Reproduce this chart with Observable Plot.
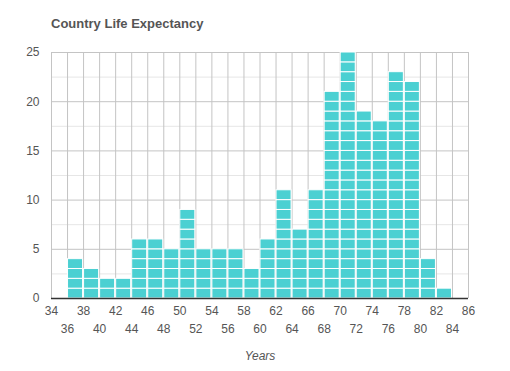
<!DOCTYPE html>
<html><head><meta charset="utf-8">
<script src="https://cdn.jsdelivr.net/npm/d3@7"></script>
<script src="https://cdn.jsdelivr.net/npm/@observablehq/plot@0.6"></script>
<style>
body{margin:0;background:#fff;font-family:"Liberation Sans",Arial,sans-serif;}
#title{height:40px;box-sizing:border-box;padding:17px 0 0 51px;font-size:13px;font-weight:bold;color:#555;line-height:14px;}
</style></head>
<body>
<div id="title">Country Life Expectancy</div>
<div id="chart"></div>
<script>
const binStarts = [36,38,40,42,44,46,48,50,52,54,56,58,60,62,64,66,68,70,72,74,76,78,80,82];
const counts    = [4, 3, 2, 2, 6, 6, 5, 9, 5, 5, 5, 3, 6, 11,7, 11,21,25,19,18,23,22,4, 1];
const binWidth = 2;
const xTicksRow1 = [34,38,42,46,50,54,58,62,66,70,74,78,82,86];
const xTicksRow2 = [36,40,44,48,52,56,60,64,68,72,76,80,84];
const yMajor = [0,5,10,15,20,25];
const yMinor = [2.5,7.5,12.5,17.5,22.5];
const xGrid = d3.range(34, 87, 2);
const xLabel = "Years";

const cells = [];
binStarts.forEach((b, i) => {
  for (let k = 0; k < counts[i]; k++) cells.push({x1: b, x2: b + binWidth, y1: k, y2: k + 1});
});

const chart = Plot.plot({
  width: 510, height: 331,
  marginTop: 12, marginBottom: 73, marginLeft: 51, marginRight: 42,
  style: {fontFamily: "'Liberation Sans', Arial, sans-serif", fontSize: "12px", color: "#555"},
  x: {domain: [34, 86]},
  y: {domain: [0, 25]},
  marks: [
    Plot.ruleY(yMinor, {stroke: "#e6e6e6", strokeWidth: 1}),
    Plot.ruleY(yMajor, {stroke: "#c4c4c4", strokeWidth: 1}),
    Plot.ruleX(xGrid, {stroke: "#c4c4c4", strokeWidth: 1}),
    Plot.rect(cells, {x1: "x1", x2: "x2", y1: "y1", y2: "y2", fill: "#4bd0d2", stroke: "#fff", strokeWidth: 1, insetLeft: 0.5, insetRight: 0.5}),
    Plot.ruleY([0], {stroke: "#333", strokeWidth: 1.5}),
    Plot.axisY({ticks: yMajor, tickSize: 0, tickPadding: 12, label: null, fill: "#555", fontSize: 12}),
    Plot.axisX({ticks: xTicksRow1, tickSize: 0, tickPadding: 8, label: null, fill: "#555", fontSize: 12}),
    Plot.axisX({ticks: xTicksRow2, tickSize: 0, tickPadding: 26, label: null, fill: "#555", fontSize: 12}),
    Plot.text([xLabel], {frameAnchor: "bottom", dy: 61, fontStyle: "italic", fill: "#555", fontSize: 12})
  ]
});
document.getElementById("chart").appendChild(chart);
</script>
</body></html>
